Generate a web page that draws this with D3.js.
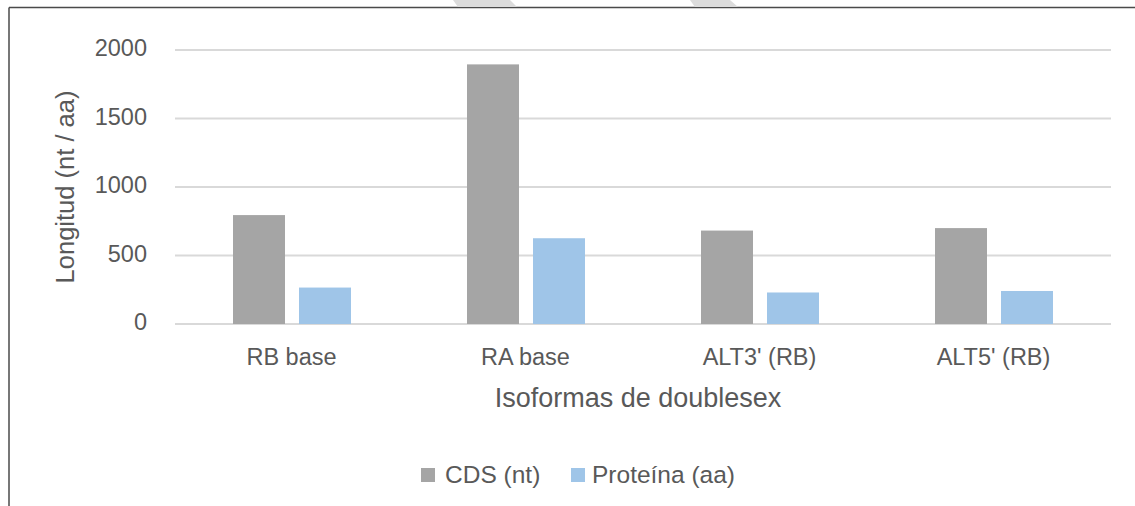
<!DOCTYPE html>
<html>
<head>
<meta charset="utf-8">
<script src="https://cdn.jsdelivr.net/npm/d3@7"></script>
<style>
  html, body { margin: 0; padding: 0; background: #fff; }
  svg { display: block; font-family: "Liberation Sans", Arial, sans-serif; }
</style>
</head>
<body>
<div id="chart"></div>
<script>
const categories = ["RB base", "RA base", "ALT3' (RB)", "ALT5' (RB)"];
const seriesNames = ["CDS (nt)", "Proteína (aa)"];
const cdsValues = [795, 1895, 682, 700];
const proteinValues = [266, 626, 230, 241];
const yTicks = [0, 500, 1000, 1500, 2000];
const colors = ["#a5a5a5", "#9fc5e8"];

const W = 1135, H = 506;
const svg = d3.select("#chart").append("svg").attr("width", W).attr("height", H);

// frame lines
svg.append("line").attr("x1", 9).attr("x2", 9).attr("y1", 7.5).attr("y2", H)
  .attr("stroke", "#4a4a4a").attr("stroke-width", 1.5);
svg.append("line").attr("x1", 9).attr("x2", W).attr("y1", 7.5).attr("y2", 7.5)
  .attr("stroke", "#4a4a4a").attr("stroke-width", 1.5);
// faint shapes above the frame
svg.append("polygon").attr("points", "453,0 510,0 517,7 458,7").attr("fill", "#dcdcdc");
svg.append("polygon").attr("points", "690,0 730,0 738,7 695,7").attr("fill", "#dcdcdc");

const x0 = d3.scaleBand().domain(categories).range([175, 1111]).padding(0);
const x1 = d3.scaleBand().domain(seriesNames).range([-59, 59]).paddingInner(0.212).paddingOuter(0);
const y = d3.scaleLinear().domain([0, 2000]).range([324, 50]);

// gridlines
svg.append("g").selectAll("line").data(yTicks).join("line")
  .attr("x1", 175).attr("x2", 1111)
  .attr("y1", d => y(d)).attr("y2", d => y(d))
  .attr("stroke", "#d9d9d9").attr("stroke-width", 2);

// y tick labels
svg.append("g").selectAll("text").data(yTicks).join("text")
  .attr("x", 147).attr("y", d => y(d))
  .attr("text-anchor", "end").attr("dominant-baseline", "middle")
  .attr("font-size", 23.5).attr("fill", "#595959")
  .text(d => d);

// bars
const data = categories.map((c, i) => ({ cat: c, vals: [cdsValues[i], proteinValues[i]] }));
const groups = svg.append("g").selectAll("g").data(data).join("g")
  .attr("transform", d => `translate(${x0(d.cat) + x0.bandwidth() / 2},0)`);
groups.selectAll("rect").data(d => d.vals.map((v, j) => ({ s: seriesNames[j], v, j })))
  .join("rect")
  .attr("x", d => x1(d.s))
  .attr("width", x1.bandwidth())
  .attr("y", d => y(d.v))
  .attr("height", d => y(0) - y(d.v))
  .attr("fill", d => colors[d.j]);

// x category labels
svg.append("g").selectAll("text").data(categories).join("text")
  .attr("x", d => x0(d) + x0.bandwidth() / 2 - 0.5)
  .attr("y", 365)
  .attr("text-anchor", "middle")
  .attr("font-size", 23.5).attr("fill", "#595959")
  .text(d => d);

// axis titles
svg.append("text")
  .attr("transform", "translate(74,187) rotate(-90)")
  .attr("text-anchor", "middle")
  .attr("font-size", 25.5).attr("fill", "#595959")
  .text("Longitud (nt / aa)");

svg.append("text")
  .attr("x", 638).attr("y", 407)
  .attr("text-anchor", "middle")
  .attr("font-size", 27).attr("fill", "#595959")
  .text("Isoformas de doublesex");

// legend
const legendItems = [
  { name: seriesNames[0], color: colors[0], sx: 421, tx: 445 },
  { name: seriesNames[1], color: colors[1], sx: 571, tx: 592 }
];
const lg = svg.append("g");
lg.selectAll("rect").data(legendItems).join("rect")
  .attr("x", d => d.sx).attr("y", 468).attr("width", 14).attr("height", 14)
  .attr("fill", d => d.color);
lg.selectAll("text").data(legendItems).join("text")
  .attr("x", d => d.tx).attr("y", 483)
  .attr("font-size", 24.5).attr("fill", "#595959")
  .text(d => d.name);
</script>
</body>
</html>
